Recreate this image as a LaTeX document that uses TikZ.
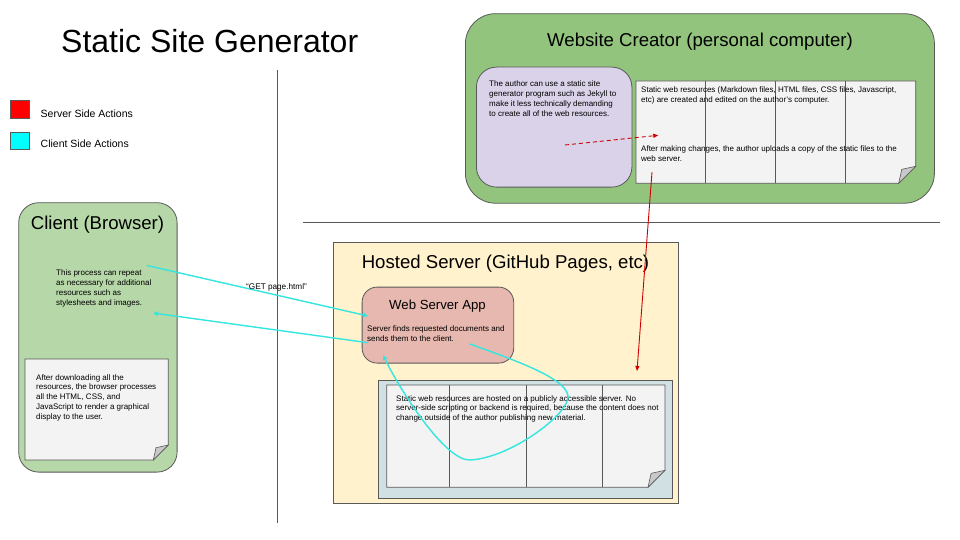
\documentclass[tikz,border=0pt]{standalone}
\usepackage{fontspec}
\setmainfont{Liberation Sans}
\usetikzlibrary{arrows.meta}
\definecolor{edge}{HTML}{595959}
\definecolor{creatorgreen}{HTML}{93C47D}
\definecolor{clientgreen}{HTML}{B6D7A8}
\definecolor{lavender}{HTML}{D9D2E9}
\definecolor{paper}{HTML}{F3F3F3}
\definecolor{cream}{HTML}{FFF2CC}
\definecolor{rose}{HTML}{E6B8AF}
\definecolor{bluegray}{HTML}{D0E0E3}
\definecolor{foldgray}{HTML}{C8C8C8}
\definecolor{cyanline}{HTML}{33E6DF}
\definecolor{redline}{HTML}{D00000}
\definecolor{legendred}{HTML}{FF0000}
\definecolor{legendcyan}{HTML}{00FFFF}
\newcommand\DocPage[5]{%
  \fill[paper] (#1,#2) -- (#3,#2) -- (#3,#4-#5) -- (#3-#5,#4) -- (#1,#4) -- cycle;
}
\newcommand\DocOutline[5]{%
  \draw[edge,line width=0.8pt,line join=miter] (#1,#2) -- (#3,#2) -- (#3,#4-#5) -- (#3-#5,#4) -- (#1,#4) -- cycle;
  \filldraw[draw=edge,fill=foldgray,line width=0.6pt] (#3,#4-#5) -- (#3-#5,#4) -- (#3-0.82*#5,#4-0.82*#5) -- cycle;
}
\begin{document}
\begin{tikzpicture}[x=1pt,y=-1pt,
  box/.style={draw=edge,line width=0.8pt,anchor=north west,inner sep=0pt},
  blank/.style={anchor=north west,inner sep=0pt},
  smalltext/.style={anchor=north west,inner sep=0pt,align=left,font=\fontsize{8}{9.9}\selectfont},
  heading/.style={anchor=base,inner sep=0pt,font=\fontsize{18.6}{22}\selectfont},
  legendtext/.style={anchor=base west,inner sep=0pt,font=\fontsize{10.5}{12}\selectfont},
  rule/.style={draw=edge,line width=0.8pt},
  cyanarrow/.style={draw=cyanline,line width=1.4pt,-{Triangle[length=5pt,width=4.5pt]}},
  redarrow/.style={draw=redline,line width=0.9pt,-{Triangle[length=5pt,width=4pt]}}
]
\useasboundingbox (0,0) rectangle (960,540);
\fill[white] (0,0) rectangle (960,540);

% title and legend
\node[anchor=base west,inner sep=0pt,font=\fontsize{32}{36}\selectfont] (title) at (61,53) {Static Site Generator};
\node[box,fill=legendred,minimum width=19,minimum height=18] (legserver) at (10,100) {};
\node[box,fill=legendcyan,minimum width=19,minimum height=17] (legclient) at (10,132) {};
\node[legendtext] (legservertext) at (40.5,118) {Server Side Actions};
\node[legendtext] (legclienttext) at (40.5,148) {Client Side Actions};

% separators
\coordinate (vtop) at (277,70);
\coordinate (vbot) at (277,523);
\coordinate (hleft) at (303,222);
\coordinate (hright) at (940,222);
\draw[rule] (vtop) -- (vbot);
\draw[rule] (hleft) -- (hright);

% Website creator
\node[box,fill=creatorgreen,rounded corners=30pt,minimum width=469,minimum height=189.5] (creator) at (465,13.3) {};
\node[heading] (creatortitle) at (700,46.5) {Website Creator (personal computer)};
\node[box,fill=lavender,rounded corners=20pt,minimum width=155.5,minimum height=120] (generator) at (476,66.7) {};
\node[smalltext] (generatortext) at (489,80.8) {The author can use a static site\\generator program such as Jekyll to\\make it less technically demanding\\to create all of the web resources.};
\node[blank,minimum width=280,minimum height=102.3] (localfiles) at (636,81) {};
\DocPage{636}{81}{915.7}{183.3}{17}
\foreach \vx in {705,775.3,845} \draw[edge,line width=0.8pt] (\vx,81) -- (\vx,183.3);
\DocOutline{636}{81}{915.7}{183.3}{17}
\node[smalltext] (localtext) at (641,86.8) {Static web resources (Markdown files, HTML files, CSS files, Javascript,\\etc) are created and edited on the author's computer.};
\node[smalltext] (uploadtext) at (641,145.8) {After making changes, the author uploads a copy of the static files to the\\web server.};

% Client
\node[box,fill=clientgreen,rounded corners=20pt,minimum width=158.4,minimum height=269.4] (client) at (18.3,202.3) {};
\node[heading] (clienttitle) at (97.5,229) {Client (Browser)};
\node[smalltext] (repeattext) at (56,270) {This process can repeat\\as necessary for additional\\resources such as\\stylesheets and images.};
\node[blank,minimum width=143.3,minimum height=101] (clientdoc) at (25,359) {};
\DocPage{25}{359}{168.3}{460}{15}
\DocOutline{25}{359}{168.3}{460}{15}
\node[smalltext] (rendertext) at (36,374) {After downloading all the\\resources, the browser processes\\all the HTML, CSS, and\\JavaScript to render a graphical\\display to the user.};

% Hosted server
\node[box,fill=cream,minimum width=344.4,minimum height=261.3] (hosted) at (333.3,241.7) {};
\node[heading] (hostedtitle) at (505.5,268.3) {Hosted Server (GitHub Pages, etc)};
\node[box,fill=rose,rounded corners=15pt,minimum width=151.6,minimum height=76] (webapp) at (361.7,286.7) {};
\node[anchor=base,inner sep=0pt,font=\fontsize{13.2}{16}\selectfont] (webapptitle) at (437.5,309) {Web Server App};
\node[smalltext] (webapptext) at (367,325.8) {Server finds requested documents and\\sends them to the client.};
\node[box,fill=bluegray,minimum width=293.4,minimum height=117.7] (hostedfiles) at (378.3,380) {};
\DocPage{386.7}{385}{665}{487.3}{17}
\foreach \vx in {449.3,526.7,602.7} \draw[edge,line width=0.8pt] (\vx,385) -- (\vx,487.3);
\DocOutline{386.7}{385}{665}{487.3}{17}
\node[smalltext] (hostedtext) at (396,395) {Static web resources are hosted on a publicly accessible server. No\\server-side scripting or backend is required, because the content does not\\change outside of the author publishing new material.};

% connectors
\coordinate (genout) at (565,145);
\coordinate (filesin) at (658.3,135.3);
\draw[redarrow,dash pattern=on 4pt off 3pt] (genout) -- (filesin);
\coordinate (uploadout) at (652,172);
\coordinate (serverin) at (637,371);
\draw[redarrow] (uploadout) -- (serverin);

\coordinate (clientreq) at (147,265.5);
\coordinate (appreqin) at (368,316);
\draw[cyanarrow] (clientreq) -- (appreqin);
\coordinate (appresp) at (368,342.7);
\coordinate (clientin) at (153,313);
\draw[cyanarrow] (appresp) -- (clientin);
\node[anchor=base west,inner sep=0pt,font=\fontsize{8.2}{10}\selectfont] (getlabel) at (246,289) {“GET page.html”};

\coordinate (lookupout) at (470,344);
\coordinate (lookupin) at (383,355);
\draw[cyanarrow] (lookupout) .. controls (520,362) and (570,380) .. (568,398)
  .. controls (566,416) and (510,458) .. (470,460)
  .. controls (445,461) and (400,390) .. (lookupin);
\end{tikzpicture}
\end{document}
